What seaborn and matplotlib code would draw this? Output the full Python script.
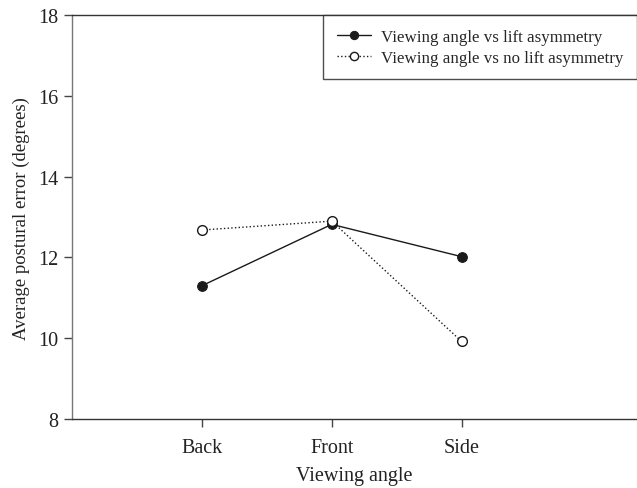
import matplotlib
matplotlib.use("Agg")
import matplotlib.pyplot as plt
import pandas as pd
import seaborn as sns

ANGLES = ["Back", "Front", "Side"]
LIFT_ASYM = [11.3, 12.82, 12.02]
NO_LIFT_ASYM = [12.68, 12.9, 9.92]
SERIES_NAMES = ["Viewing angle vs lift asymmetry", "Viewing angle vs no lift asymmetry"]

sns.set_style("white")
plt.rcParams["font.family"] = ["Liberation Serif", "DejaVu Serif"]

df = pd.DataFrame({
    "angle": ANGLES * 2,
    "error": LIFT_ASYM + NO_LIFT_ASYM,
    "series": [SERIES_NAMES[0]] * 3 + [SERIES_NAMES[1]] * 3,
})

fig = plt.figure(figsize=(6.37, 4.89), dpi=100)
ax = fig.add_axes([0.113, 0.141, 0.887, 0.826])

sns.lineplot(
    data=df[df["series"] == SERIES_NAMES[0]], x="angle", y="error", ax=ax,
    color="#1a1a1a", linewidth=1.0, marker="o", markersize=7,
    markerfacecolor="#1a1a1a", markeredgecolor="#1a1a1a", label=SERIES_NAMES[0],
)
sns.lineplot(
    data=df[df["series"] == SERIES_NAMES[1]], x="angle", y="error", ax=ax,
    color="#1a1a1a", linewidth=1.0, linestyle=":", marker="o", markersize=7,
    markerfacecolor="white", markeredgecolor="#1a1a1a", markeredgewidth=1.0,
    label=SERIES_NAMES[1],
)

ax.set_xlim(-1, 3.35)
ax.set_ylim(8, 18)
ax.set_yticks([8, 10, 12, 14, 16, 18])
ax.set_xlabel("Viewing angle", fontsize=14.5, color="#222222", labelpad=6)
ax.set_ylabel("Average postural error (degrees)", fontsize=13.5, color="#222222", labelpad=6)
ax.tick_params(axis="both", direction="out", length=6, width=1, color="#444444",
               labelsize=14.5, labelcolor="#222222", bottom=True, left=True)
ax.tick_params(axis="x", pad=8)
ax.tick_params(axis="y", pad=4)
for side in ["left", "bottom", "top"]:
    ax.spines[side].set_color("#333333")
    ax.spines[side].set_linewidth(1.0)
ax.spines["left"].set_color("#777777")
ax.spines["right"].set_visible(False)

leg = ax.legend(loc="upper right", bbox_to_anchor=(1.0, 1.0), borderaxespad=0,
                fontsize=12.2, frameon=True, fancybox=False, handlelength=2.0,
                handletextpad=0.6, borderpad=0.8, labelspacing=0.3, markerscale=0.85)
leg.get_frame().set_edgecolor("#222222")
leg.get_frame().set_linewidth(1.0)

fig.savefig("out.png", dpi=100)
